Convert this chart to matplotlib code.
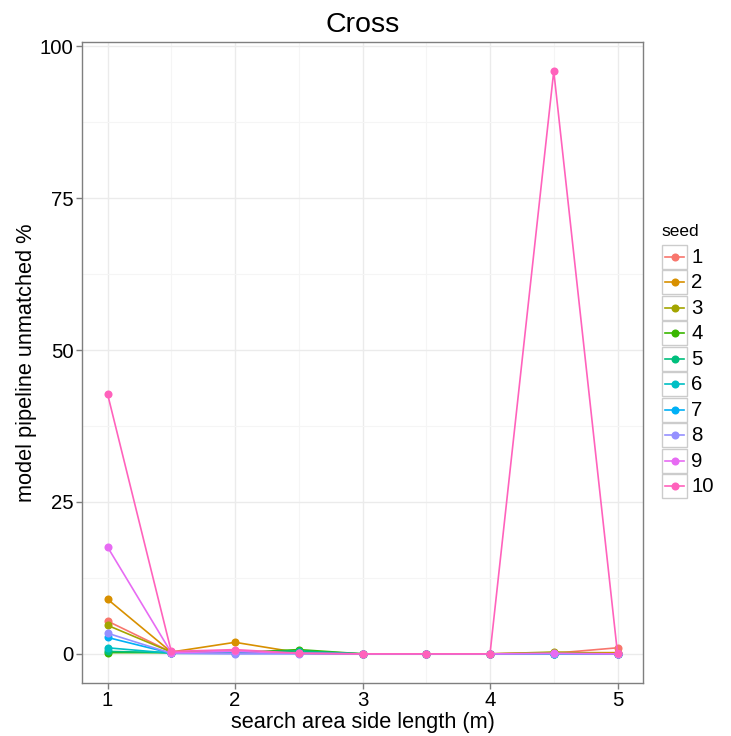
import matplotlib
matplotlib.use("Agg")
import matplotlib.pyplot as plt
from matplotlib.patches import Rectangle

plt.rcParams["font.family"] = ["Liberation Sans", "DejaVu Sans"]

# search area side lengths (m)
sideLengths = [1, 1.5, 2, 2.5, 3, 3.5, 4, 4.5, 5]

seeds = ["1", "2", "3", "4", "5", "6", "7", "8", "9", "10"]

# unmatched % per seed
seed1 = [5.4, 0.3, 0.5, 0.1, 0.0, 0.0, 0.0, 0.1, 1.0]
seed2 = [9.0, 0.3, 1.9, 0.2, 0.0, 0.0, 0.0, 0.2, 0.2]
seed3 = [4.7, 0.3, 0.3, 0.1, 0.0, 0.0, 0.0, 0.3, 0.0]
seed4 = [0.2, 0.2, 0.2, 0.7, 0.0, 0.0, 0.0, 0.0, 0.0]
seed5 = [0.4, 0.2, 0.2, 0.5, 0.0, 0.0, 0.0, 0.0, 0.0]
seed6 = [1.0, 0.1, 0.1, 0.1, 0.0, 0.0, 0.0, 0.0, 0.0]
seed7 = [2.7, 0.1, 0.1, 0.1, 0.0, 0.0, 0.0, 0.0, 0.0]
seed8 = [3.4, 0.1, 0.0, 0.0, 0.0, 0.0, 0.0, 0.0, 0.0]
seed9 = [17.6, 0.2, 0.4, 0.1, 0.0, 0.0, 0.0, 0.1, 0.0]
seed10 = [42.8, 0.4, 0.7, 0.1, 0.0, 0.0, 0.0, 95.9, 0.1]

allSeries = [seed1, seed2, seed3, seed4, seed5, seed6, seed7, seed8, seed9, seed10]
colors = ["#F8766D", "#D89000", "#A3A500", "#39B600", "#00BF7D",
          "#00BFC4", "#00B0F6", "#9590FF", "#E76BF3", "#FF62BC"]

W, H = 731, 736
fig = plt.figure(figsize=(W / 100, H / 100), dpi=100)
fig.patch.set_facecolor("white")

ax = fig.add_axes([82 / W, (H - 683) / H, (643 - 82) / W, (683 - 42) / H])

for vals, c in zip(allSeries, colors):
    ax.plot(sideLengths, vals, color=c, lw=1.2, marker="o", markersize=5.8,
            markeredgewidth=0, zorder=3)

ymax = max(max(s) for s in allSeries)
ax.set_xlim(1 - 0.2, 5 + 0.2)
ax.set_ylim(-ymax * 0.05, ymax * 1.05)

ax.set_xticks([1, 2, 3, 4, 5])
ax.set_xticks([1.5, 2.5, 3.5, 4.5], minor=True)
ax.set_yticks([0, 25, 50, 75, 100])
ax.set_yticks([12.5, 37.5, 62.5, 87.5], minor=True)
ax.grid(which="major", color="#EBEBEB", lw=1.0, zorder=0)
ax.grid(which="minor", color="#F5F5F5", lw=0.8, zorder=0)
ax.set_axisbelow(True)

for s in ax.spines.values():
    s.set_color("#7F7F7F")
    s.set_linewidth(1.0)

ax.tick_params(which="major", length=4, width=1, color="#7F7F7F",
               labelsize=14.7, labelcolor="black", pad=2)
ax.tick_params(which="minor", length=0)

ax.set_title("Cross", fontsize=20.5, pad=7)
ax.set_xlabel("search area side length (m)", fontsize=15.7, labelpad=1.5)
ax.set_ylabel("model pipeline unmatched %", fontsize=15.7, labelpad=2)

# legend drawn as ggplot-style key boxes
lax = fig.add_axes([661 / W, (H - 499) / H, 27 / W, 255 / H])
lax.set_xlim(0, 1)
lax.set_ylim(0, len(seeds))
lax.axis("off")
for i, (lab, c) in enumerate(zip(seeds, colors)):
    y0 = len(seeds) - 1 - i
    lax.add_patch(Rectangle((0.03, y0 + 0.02), 0.94, 0.96, facecolor="white",
                            edgecolor="#CCCCCC", lw=1.0, clip_on=False))
    lax.plot([0.15, 0.85], [y0 + 0.5, y0 + 0.5], color=c, lw=1.2, clip_on=False)
    lax.plot([0.5], [y0 + 0.5], "o", color=c, markersize=5.8,
             markeredgewidth=0, clip_on=False)
    lax.text(1.12, y0 + 0.48, lab, fontsize=14.7, va="center", ha="left")
lax.text(0.0, len(seeds) + 0.2, "seed", fontsize=12.5, va="bottom", ha="left")

fig.savefig("out.png", dpi=100, facecolor="white")
